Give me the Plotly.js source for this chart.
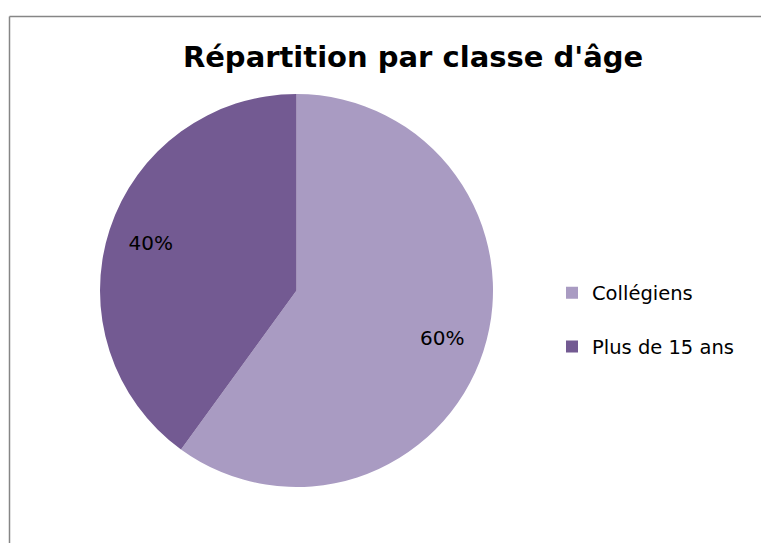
<!DOCTYPE html>
<html>
<head>
<meta charset="utf-8">
<script src="https://cdn.plot.ly/plotly-3.0.1.min.js"></script>
<style>
  html, body { margin: 0; padding: 0; background: #fff; }
  #chart { width: 761px; height: 543px; }
</style>
</head>
<body>
<div id="chart"></div>
<script>
const categories = ["Collégiens", "Plus de 15 ans"];
const values = [60, 40];
const colors = ["#A99BC2", "#735A92"];
const chartTitle = "Répartition par classe d'âge";

const W = 761, H = 543;
const FONT = "DejaVu Sans, sans-serif";
const pieDomain = { x: [100 / W, 493 / W], y: [56 / H, 449 / H] };

// filled slices with legend
const slices = {
  type: "pie",
  labels: categories.map(c => c + "<br> "),
  values: values,
  sort: false,
  direction: "clockwise",
  rotation: 0,
  marker: { colors: colors, line: { width: 0 } },
  textinfo: "none",
  hoverinfo: "skip",
  domain: pieDomain
};

// transparent ring on top, only to put the percent labels further out
const labelsRing = {
  type: "pie",
  labels: categories,
  values: values,
  sort: false,
  direction: "clockwise",
  rotation: 0,
  hole: 0.56,
  showlegend: false,
  marker: { colors: ["rgba(0,0,0,0)", "rgba(0,0,0,0)"], line: { width: 0 } },
  textinfo: "percent",
  textposition: "inside",
  insidetextorientation: "horizontal",
  textfont: { family: FONT, size: 20, color: "#000" },
  hoverinfo: "skip",
  domain: pieDomain
};

const layout = {
  width: W,
  height: H,
  margin: { l: 0, r: 0, t: 0, b: 0 },
  paper_bgcolor: "#fff",
  title: {
    text: "<b>" + chartTitle + "</b>",
    font: { family: FONT, size: 29, color: "#000" },
    x: 413 / W, xanchor: "center",
    y: 1 - 57 / H, yanchor: "middle"
  },
  showlegend: true,
  legend: {
    x: 552 / W, xanchor: "left",
    y: 1 - 332.5 / H, yanchor: "middle",
    valign: "top",
    font: { family: FONT, size: 19.5, color: "#000" },
    itemwidth: 30,
    bgcolor: "rgba(0,0,0,0)"
  },
  shapes: [
    { type: "line", xref: "paper", yref: "paper",
      x0: 9.5 / W, x1: 9.5 / W, y0: 0, y1: 1 - 16.5 / H,
      line: { color: "#868686", width: 1.5 } },
    { type: "line", xref: "paper", yref: "paper",
      x0: 9.5 / W, x1: 1, y0: 1 - 16.5 / H, y1: 1 - 16.5 / H,
      line: { color: "#868686", width: 1.5 } }
  ]
};

Plotly.newPlot("chart", [slices, labelsRing], layout, { displayModeBar: false, staticPlot: true });
</script>
</body>
</html>
